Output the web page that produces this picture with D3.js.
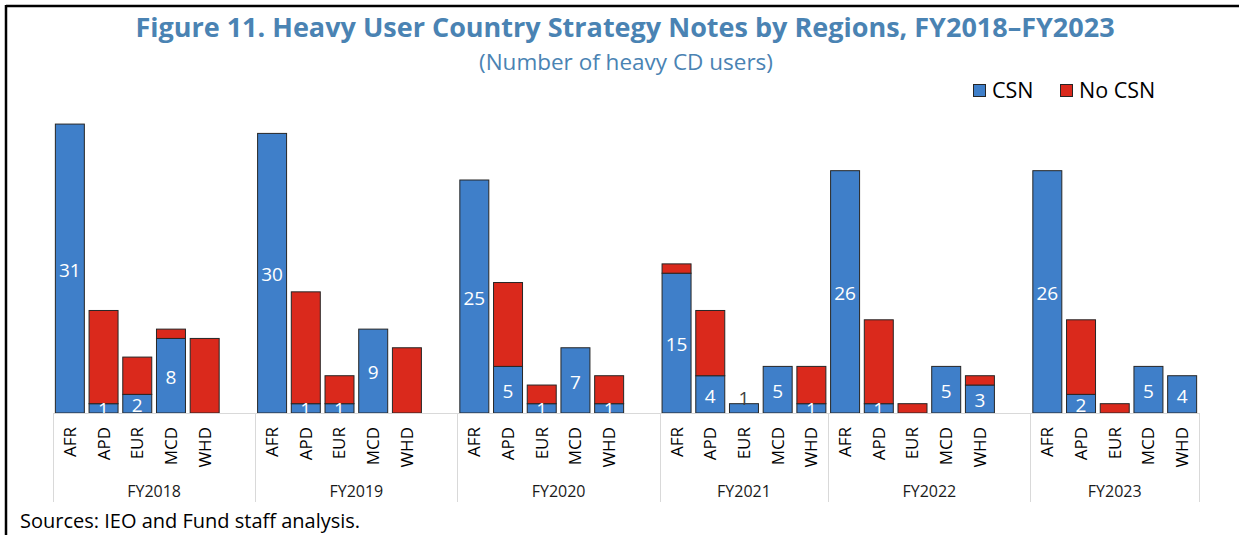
<!DOCTYPE html>
<meta charset="UTF-8">
<style>
body { margin: 0; background: #fff; }
text { font-family: "Open Sans", "Noto Sans", sans-serif; }
.bar { stroke: #262626; stroke-width: 1px; }
.grid { stroke: #d9d9d9; stroke-width: 1px; fill: none; }
</style>
<body>
<script src="https://cdnjs.cloudflare.com/ajax/libs/d3/7.8.5/d3.min.js"></script>
<script>
// data
const years = ["FY2018", "FY2019", "FY2020", "FY2021", "FY2022", "FY2023"];
const regions = ["AFR", "APD", "EUR", "MCD", "WHD"];
const csn =   [[31, 1, 2, 8, 0], [30, 1, 1, 9, 0], [25, 5, 1, 7, 1], [15, 4, 1, 5, 1], [26, 1, 0, 5, 3], [26, 2, 0, 5, 4]];
const noCsn = [[0, 10, 4, 1, 8], [0, 12, 3, 0, 7], [0, 9, 2, 0, 3], [1, 7, 0, 0, 4], [0, 9, 1, 0, 1], [0, 8, 1, 0, 0]];
// the Excel axis has an empty category closing some of the year groups
const blankAfter = [true, true, true, false, true, false];
const series = ["CSN", "No CSN"];
const colors = ["#3f7fc9", "#da291c"];

const W = 1239, H = 535;
const svg = d3.select("body").append("svg")
    .attr("width", W).attr("height", H);

// frame lines (top and left)
svg.append("line").attr("x1", 6).attr("x2", W).attr("y1", 6).attr("y2", 6)
    .attr("stroke", "#000").attr("stroke-width", 2.5);
svg.append("line").attr("x1", 6).attr("x2", 6).attr("y1", 5).attr("y2", H)
    .attr("stroke", "#000").attr("stroke-width", 2.5);

// titles
svg.append("text").attr("x", 625).attr("y", 37)
    .attr("text-anchor", "middle")
    .style("font-size", "27px").style("font-weight", "bold").style("fill", "#4a83b3")
    .text("Figure 11. Heavy User Country Strategy Notes by Regions, FY2018–FY2023");
svg.append("text").attr("x", 626).attr("y", 70)
    .attr("text-anchor", "middle")
    .style("font-size", "22.5px").style("fill", "#4a83b3")
    .text("(Number of heavy CD users)");

// build category slots
const slots = [];
years.forEach((yr, i) => {
  regions.forEach((rg, j) => {
    slots.push({key: yr + "|" + rg, year: yr, region: rg, yi: i, csn: csn[i][j], no: noCsn[i][j]});
  });
  if (blankAfter[i]) slots.push({key: yr + "|blank", year: yr, region: null, yi: i});
});

const baseY = 413;
const x = d3.scaleBand()
    .domain(slots.map(d => d.key))
    .range([53, 1199])
    .paddingInner(0.14)
    .paddingOuter(0.07);
const y = d3.scaleLinear().domain([0, 35]).range([baseY, baseY - 35 * 9.32]);

const half = (x.step() - x.bandwidth()) / 2;

const barsData = slots.filter(d => d.region);

const g = svg.append("g");

// stacked bars
const stack = d3.stack().keys(["csn", "no"])(barsData);
stack.forEach((layer, li) => {
  g.selectAll(".s" + li)
    .data(layer.filter(d => d[1] - d[0] > 0))
    .join("rect")
    .attr("class", "bar")
    .attr("x", d => x(d.data.key))
    .attr("width", x.bandwidth())
    .attr("y", d => y(d[1]))
    .attr("height", d => y(d[0]) - y(d[1]))
    .attr("fill", colors[li]);
});

// axis baseline and group dividers
svg.append("line").attr("class", "grid")
    .attr("x1", x.range()[0]).attr("x2", x.range()[1])
    .attr("y1", baseY + 0.5).attr("y2", baseY + 0.5);

const bounds = [];
years.forEach((yr, i) => {
  const ks = slots.filter(d => d.yi === i);
  bounds.push({year: yr,
    x0: x(ks[0].key) - half,
    x1: x(ks[ks.length - 1].key) + x.bandwidth() + half});
});
const edges = [bounds[0].x0].concat(bounds.map(b => b.x1));
svg.selectAll(".div").data(edges).join("line")
    .attr("class", "grid")
    .attr("x1", d => Math.round(d) + 0.5).attr("x2", d => Math.round(d) + 0.5)
    .attr("y1", baseY).attr("y2", 502);

// region labels
svg.selectAll(".rg").data(barsData).join("text")
    .attr("transform", d => `translate(${x(d.key) + x.bandwidth() / 2},427) rotate(-90)`)
    .attr("text-anchor", "end")
    .attr("dy", "0.35em")
    .style("font-size", "17px").style("fill", "#000")
    .text(d => d.region);

// year labels
svg.selectAll(".yr").data(bounds).join("text")
    .attr("x", d => (d.x0 + d.x1) / 2)
    .attr("y", 497)
    .attr("text-anchor", "middle")
    .style("font-size", "16px").style("fill", "#1a1a1a")
    .text(d => d.year);

// data labels for CSN, clipped to the plot area
svg.append("clipPath").attr("id", "plotClip")
  .append("rect").attr("x", 0).attr("y", 0).attr("width", W).attr("height", baseY);

const labels = svg.append("g").attr("clip-path", "url(#plotClip)");
barsData.filter(d => d.csn > 0).forEach(d => {
  const cx = x(d.key) + x.bandwidth() / 2;
  const h = y(0) - y(d.csn);
  if (h < 14 && d.no === 0) {
    // too short and nothing above: label sits on the bar
    labels.append("text")
      .attr("x", cx).attr("y", y(d.csn) + 1)
      .attr("text-anchor", "middle")
      .style("font-size", "19px").style("fill", "#404040")
      .text(d.csn);
  } else {
    labels.append("text")
      .attr("x", cx).attr("y", (y(0) + y(d.csn)) / 2 + 1.5)
      .attr("dy", "0.35em")
      .attr("text-anchor", "middle")
      .style("font-size", "19px").style("fill", "#fff")
      .text(d.csn);
  }
});

// legend
const legend = svg.append("g");
const legX = [973, 1060];
series.forEach((s, i) => {
  legend.append("rect")
    .attr("x", legX[i] + 0.5).attr("y", 84.5).attr("width", 12).attr("height", 12)
    .attr("fill", colors[i]).attr("stroke", "#262626").attr("stroke-width", 1);
  legend.append("text")
    .attr("x", legX[i] + 19).attr("y", 97.5)
    .style("font-size", "21.5px").style("fill", "#000")
    .text(s);
});

// source note
svg.append("text").attr("x", 20).attr("y", 528)
    .style("font-size", "20px").style("fill", "#000")
    .text("Sources: IEO and Fund staff analysis.");
</script>
</body>
